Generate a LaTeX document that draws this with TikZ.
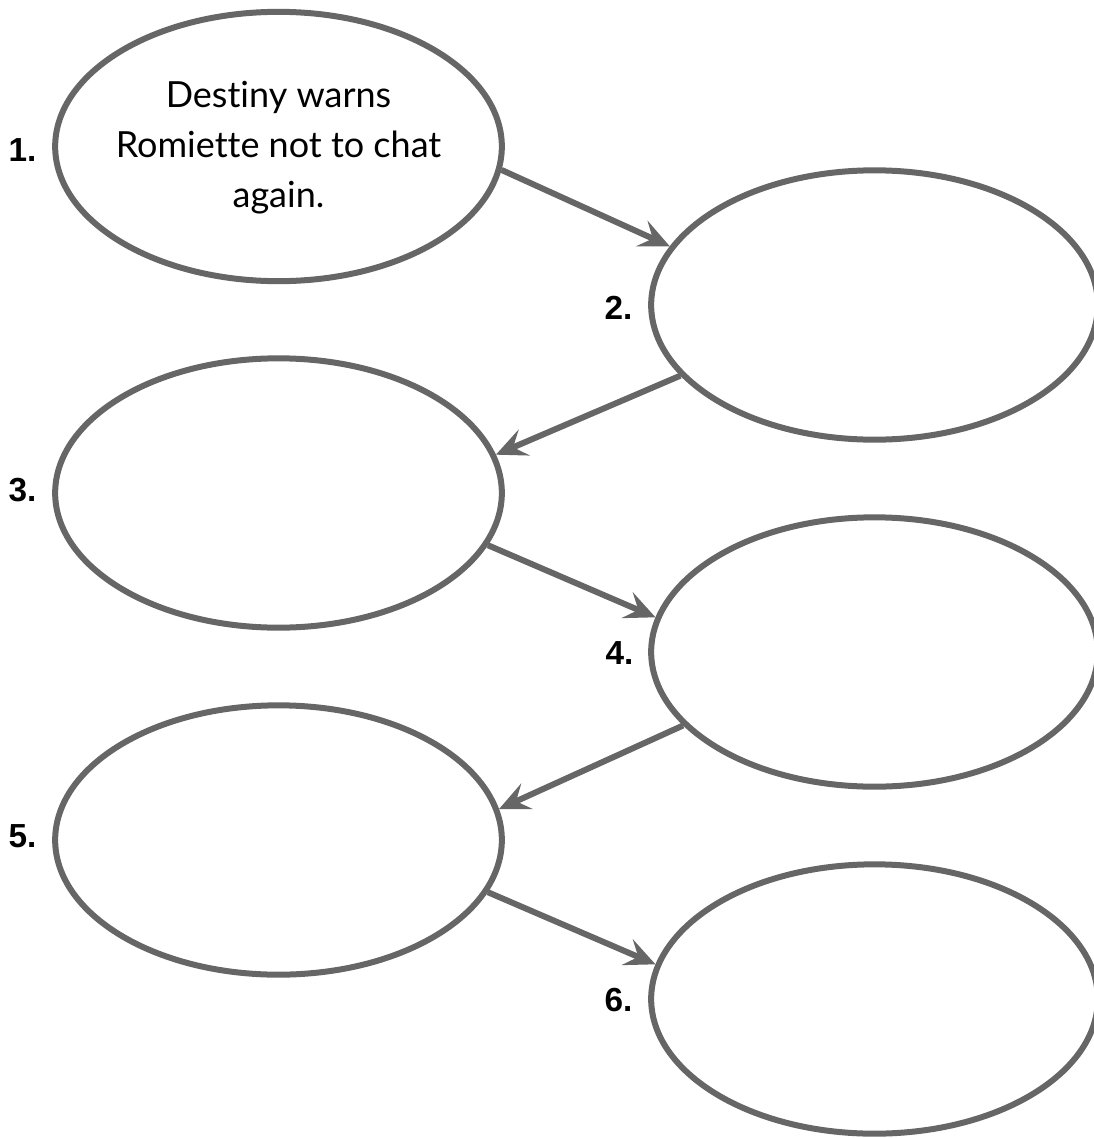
\documentclass[tikz,border=0pt]{standalone}
\usepackage{fontspec}
\setmainfont{Lato}[Ligatures=NoCommon]
\newfontfamily\numfont{Liberation Sans}
\usetikzlibrary{shapes.geometric,arrows.meta,positioning}
\definecolor{rimgray}{RGB}{102,102,102}
\tikzset{every picture/.style={line width=0.75pt}}
\tikzset{
  event/.style={draw=rimgray, line width=4.5pt, ellipse, minimum width=335pt, minimum height=202pt, inner sep=0pt},
  stepnum/.style={font=\numfont\bfseries\fontsize{25}{30}\selectfont, inner sep=0pt, anchor=east},
  storytext/.style={font=\fontsize{27}{37.5}\selectfont, align=center, inner sep=0pt},
  link/.style={draw=rimgray, line width=4.5pt, -{Stealth[length=23pt,width=21pt,inset=9pt]}},
}

\begin{document}
\begin{tikzpicture}[x=0.75pt,y=0.75pt,yscale=-1,xscale=1]
		\useasboundingbox (0,0) rectangle (1094,1138);

		%Shape: Ellipse (left column)
		\node [event] (e1) at (278.5,146.5) {};
		\node [event] (e3) at (278.5,493) {};
		\node [event] (e5) at (278.5,840) {};
		%Shape: Ellipse (right column)
		\node [event] (e2) at (874.5,305) {};
		\node [event] (e4) at (874.5,652) {};
		\node [event] (e6) at (874.5,999) {};

		%Straight Lines
		\draw [link] (e1.-6) -- (e2.164.4);
		\draw [link] (e2.200.7) -- (e3.10.4);
		\draw [link] (e3.-14.5) -- (e4.171.5);
		\draw [link] (e4.201.8) -- (e5.8.5);
		\draw [link] (e5.-14.2) -- (e6.171.6);

		% Text Node
		\node [storytext] (t1) at (278.5,148) {Destiny warns\\Romiette not to chat\\again.};
		% Text Node
		\node [stepnum] (n1) at (37,150) {1.};
		\node [stepnum] (n2) at (633,308) {2.};
		\node [stepnum] (n3) at (37,490) {3.};
		\node [stepnum] (n4) at (634,653) {4.};
		\node [stepnum] (n5) at (37,836) {5.};
		\node [stepnum] (n6) at (633,1000) {6.};

	\end{tikzpicture}
\end{document}
